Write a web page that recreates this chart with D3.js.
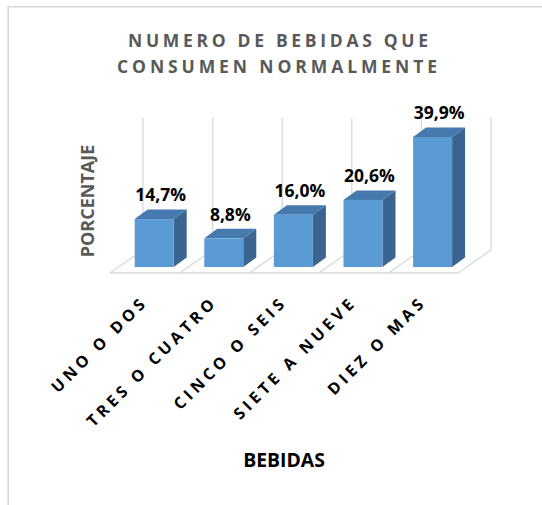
<!DOCTYPE html>
<html>
<head>
<meta charset="utf-8">
<script src="https://cdn.jsdelivr.net/npm/d3@7"></script>
<style>
  html, body { margin: 0; padding: 0; background: #fff; }
  svg { display: block; }
</style>
</head>
<body>
<div id="chart"></div>
<script>
const categories = ["UNO O DOS", "TRES O CUATRO", "CINCO O SEIS", "SIETE A NUEVE", "DIEZ O MAS"];
const values = [14.7, 8.8, 16.0, 20.6, 39.9];
const valueLabels = ["14,7%", "8,8%", "16,0%", "20,6%", "39,9%"];
const titleLines = ["NUMERO DE BEBIDAS QUE", "CONSUMEN NORMALMENTE"];
const xTitle = "BEBIDAS";
const yTitle = "PORCENTAJE";

const W = 542, H = 505;
const svg = d3.select("#chart").append("svg").attr("width", W).attr("height", H);
const FONT = "'Open Sans', 'Liberation Sans', sans-serif";

// outer border
svg.append("rect").attr("x", 8.2).attr("y", 6.7).attr("width", 600).attr("height", 600)
  .attr("fill", "none").attr("stroke", "#d9d9d9").attr("stroke-width", 1.6);

// 3D geometry
const floorFrontY = 273;
const depthX = 33, depthY = 23;          // floor depth vector (to back)
const frac = 0.26;                        // bar front position within floor depth
const barDX = 13, barDY = 9.5;           // bar depth
const barW = 39;

const x = d3.scaleBand().domain(categories).range([110, 458]).padding(0);
const y = d3.scaleLinear().domain([0, 40.5]).range([0, 132]);

const bounds = categories.map(c => x(c)).concat([x.range()[1]]);
const backBaseY = floorFrontY - depthY;
const grid = svg.append("g").attr("stroke", "#d9d9d9").attr("stroke-width", 1.3).attr("fill", "none");

// back wall vertical gridlines
grid.selectAll("line.v").data(bounds).join("line").attr("class", "v")
  .attr("x1", d => d + depthX).attr("x2", d => d + depthX)
  .attr("y1", backBaseY).attr("y2", backBaseY - y(40.5));
// floor diagonals
grid.selectAll("line.d").data(bounds).join("line").attr("class", "d")
  .attr("x1", d => d + depthX).attr("y1", backBaseY)
  .attr("x2", d => d).attr("y2", floorFrontY);
// floor front edge
grid.append("line").attr("x1", x.range()[0]).attr("x2", x.range()[1])
  .attr("y1", floorFrontY).attr("y2", floorFrontY);

// bars
const baseY = floorFrontY - depthY * frac;
const bars = svg.append("g");
categories.forEach((c, i) => {
  const cx = x(c) + x.bandwidth() / 2 + depthX * frac + 0.8;
  const x0 = cx - barW / 2, x1 = cx + barW / 2;
  const top = baseY - y(values[i]);
  // side
  bars.append("path")
    .attr("d", `M${x1},${top} L${x1 + barDX},${top - barDY} L${x1 + barDX},${baseY - barDY} L${x1},${baseY} Z`)
    .attr("fill", "#3a6590");
  // top
  bars.append("path")
    .attr("d", `M${x0},${top} L${x0 + barDX},${top - barDY} L${x1 + barDX},${top - barDY} L${x1},${top} Z`)
    .attr("fill", "#4679ad");
  // front
  bars.append("rect").attr("x", x0).attr("y", top).attr("width", barW).attr("height", baseY - top)
    .attr("fill", "#5b9bd5");
  // value label
  svg.append("text")
    .attr("x", cx + barDX / 2).attr("y", top - barDY - 8.3)
    .attr("text-anchor", "middle")
    .attr("font-family", FONT).attr("font-weight", "bold").attr("font-size", "17.5px")
    .attr("fill", "#000")
    .text(valueLabels[i]);
});

// category labels
svg.append("g").selectAll("text").data(categories).join("text")
  .attr("transform", d => `translate(${x(d) + x.bandwidth() / 2 + 4},303) rotate(-45)`)
  .attr("text-anchor", "end")
  .attr("font-family", FONT).attr("font-weight", "bold").attr("font-size", "16px")
  .attr("letter-spacing", "4px")
  .attr("fill", "#000")
  .text(d => d);

// title
const titleCx = [278, 277], titleBase = [47, 73], titleLen = [300, 320];
svg.append("g").selectAll("text").data(titleLines).join("text")
  .attr("x", (d, i) => titleCx[i]).attr("y", (d, i) => titleBase[i])
  .attr("text-anchor", "middle")
  .attr("textLength", (d, i) => titleLen[i]).attr("lengthAdjust", "spacing")
  .attr("font-family", FONT).attr("font-weight", "bold").attr("font-size", "17.5px")
  .attr("fill", "#595959")
  .text(d => d);

// axis titles
svg.append("text").attr("x", 284).attr("y", 467).attr("text-anchor", "middle")
  .attr("font-family", FONT).attr("font-weight", "bold").attr("font-size", "19.4px")
  .attr("fill", "#000").text(xTitle);

svg.append("text").attr("transform", "translate(93.5,201) rotate(-90)").attr("text-anchor", "middle")
  .attr("font-family", FONT).attr("font-weight", "bold").attr("font-size", "18px")
  .attr("fill", "#595959").text(yTitle);
</script>
</body>
</html>
